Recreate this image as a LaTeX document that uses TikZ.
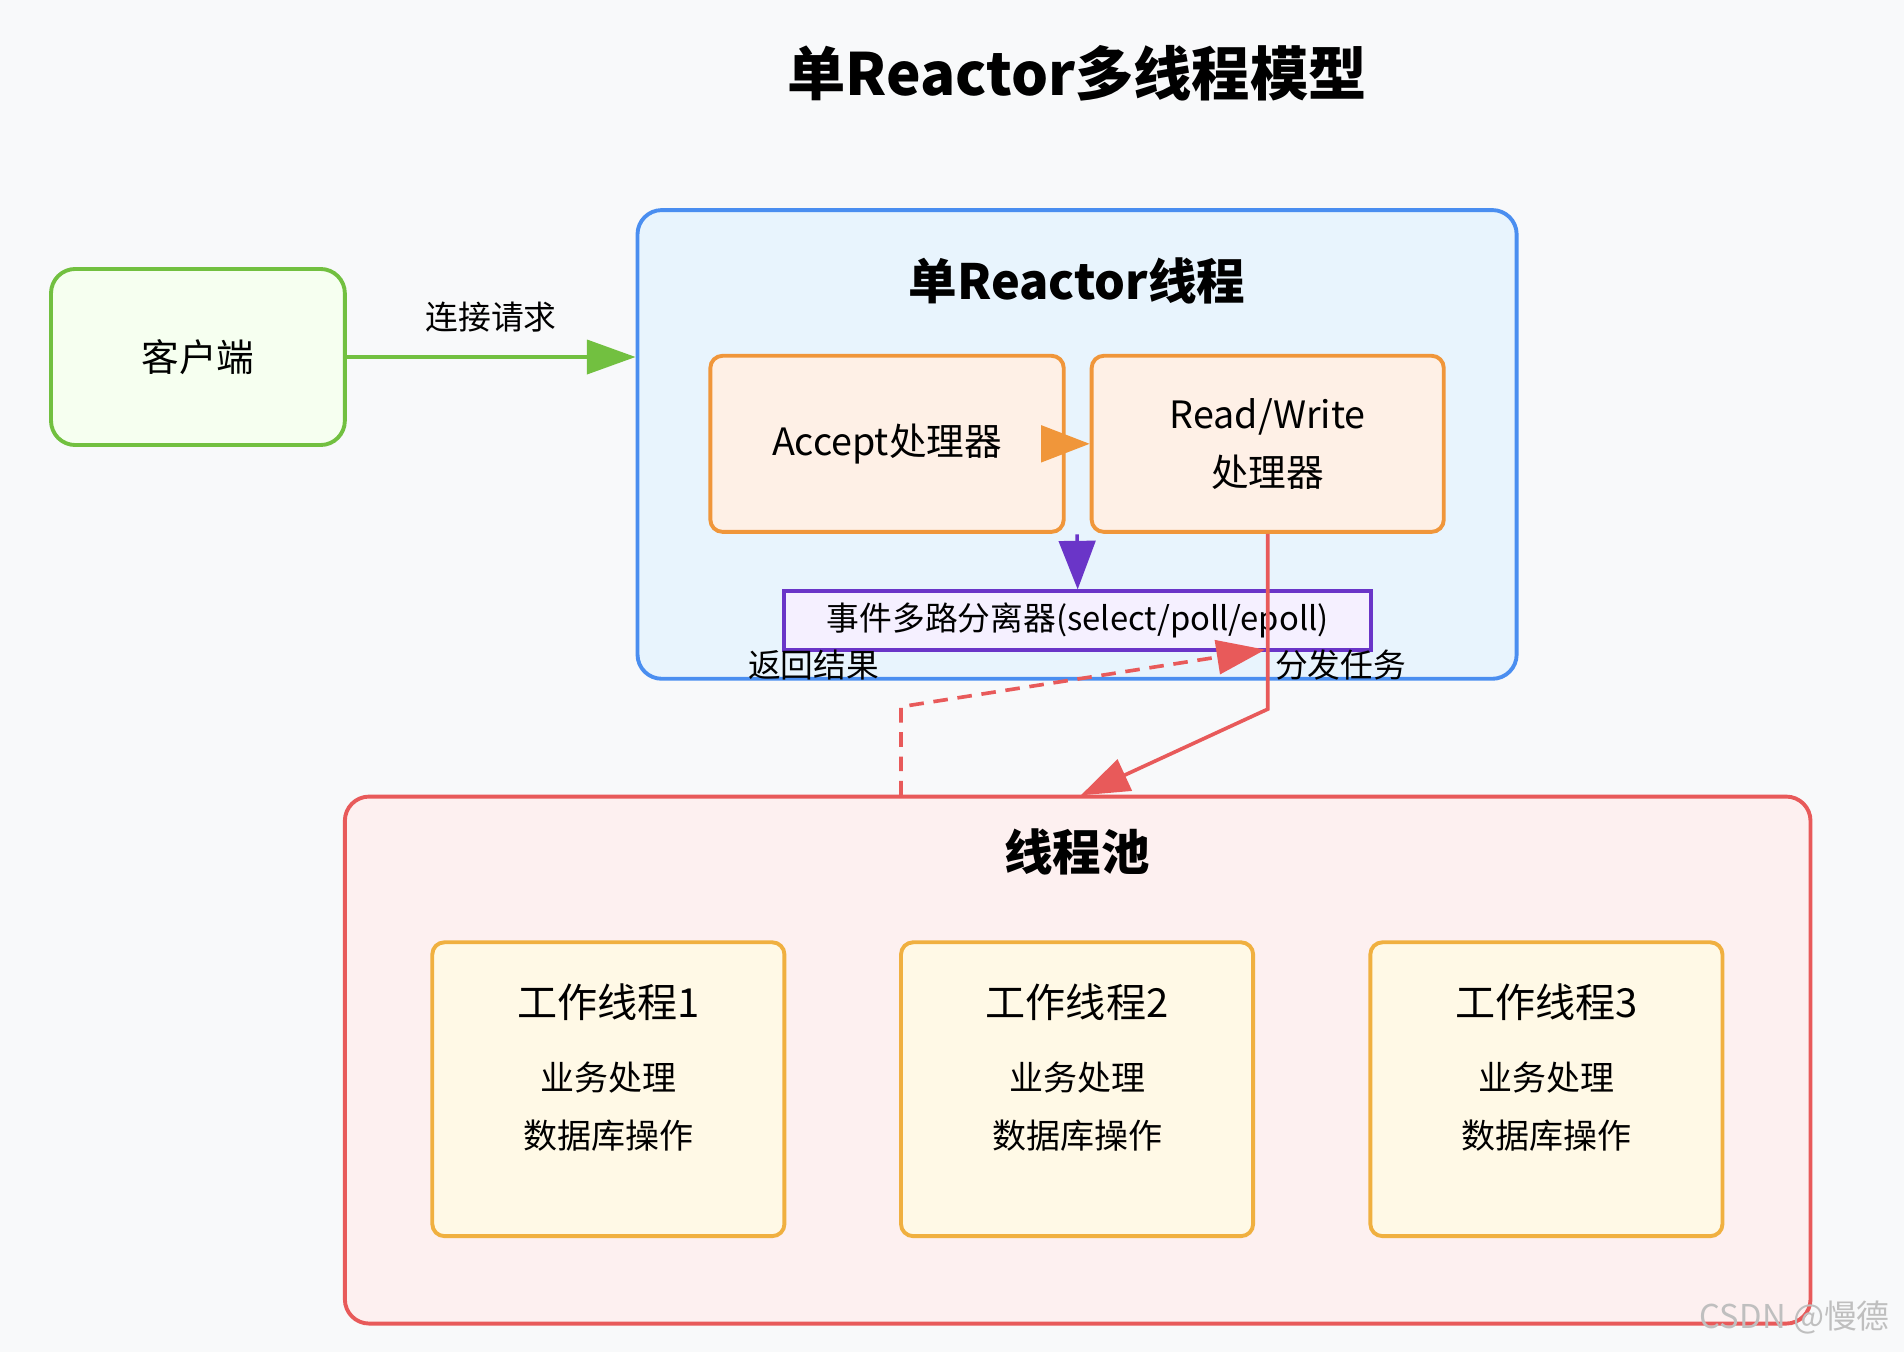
\documentclass[tikz,border=0pt]{standalone}
\usepackage{fontspec}
\setmainfont{Noto Sans CJK SC}
\usetikzlibrary{arrows.meta}
\definecolor{bg}{HTML}{F8F9FA}
\definecolor{gB}{HTML}{72C040}\definecolor{gF}{HTML}{F6FFF0}
\definecolor{bB}{HTML}{4A8EF0}\definecolor{bF}{HTML}{E8F4FD}
\definecolor{oB}{HTML}{F0963A}\definecolor{oF}{HTML}{FEF0E6}
\definecolor{pB}{HTML}{6A35C8}\definecolor{pF}{HTML}{F5F0FF}
\definecolor{rB}{HTML}{E85A5A}\definecolor{rF}{HTML}{FDF0F0}
\definecolor{yB}{HTML}{F0B040}\definecolor{yF}{HTML}{FFF9E6}
\tikzset{
 box/.style={draw, line width=1.6pt, rounded corners=#1},
 lbl/.style={font=\fontsize{13.5}{15}\selectfont},
 tip/.style={-{Triangle[length=20pt,width=14pt]}, line width=1.5pt},
}
\begin{document}
\begin{tikzpicture}[x=0.5pt,y=-0.5pt]
\fill[bg] (0,0) rectangle (1568,1113);
\useasboundingbox (0,0) rectangle (1568,1113);
\node (title) at (887,60) {\fontsize{24}{26}\selectfont\bfseries 单Reactor多线程模型};
% client
\node[box=10pt, draw=gB, fill=gF, minimum width=121pt, minimum height=72.5pt] (cli) at (163,294) {\fontsize{15.5}{18}\selectfont 客户端};
% reactor
\node[box=10pt, draw=bB, fill=bF, minimum width=362pt, minimum height=193pt] (rea) at (887,366) {};
\node (reat) at (887,231) {\fontsize{20}{22}\selectfont\bfseries 单Reactor线程};
\draw[tip, draw=gB] (cli.east) -- node[above=6pt, lbl, text=black] (lq) {连接请求} (rea.west |- cli.east);
\node[box=5pt, draw=oB, fill=oF, minimum width=145.5pt, minimum height=72.5pt] (acc) at (730.5,365.5) {\fontsize{15.5}{18}\selectfont Accept处理器};
\node[box=5pt, draw=oB, fill=oF, minimum width=145pt, minimum height=72.5pt, align=center] (rw) at (1044,365.5) {\fontsize{15.5}{18}\selectfont Read/Write\\[7pt]\fontsize{15.5}{18}\selectfont 处理器};
\draw[-{Triangle[length=20pt,width=15pt]}, line width=1.5pt, draw=oB] (acc.east) -- (rw.west);
\node[draw=pB, fill=pF, line width=1.6pt, minimum width=241.5pt, minimum height=24pt] (dmx) at (887.5,511) {\fontsize{13.5}{15}\selectfont 事件多路分离器(select/poll/epoll)};
\coordinate (pt) at (887,440);
\draw[-{Triangle[length=20pt,width=15pt]}, line width=1.5pt, draw=pB] (pt) -- (dmx.north);
% pool
\node[box=10pt, draw=rB, fill=rF, minimum width=603.5pt, minimum height=217pt] (pool) at (887.5,873) {};
\node (poolt) at (887,702) {\fontsize{20}{22}\selectfont\bfseries 线程池};
\foreach \i/\x in {1/501,2/887,3/1273.5}{
 \node[box=5pt, draw=yB, fill=yF, minimum width=145pt, minimum height=121pt] (w\i) at (\x,897) {};
 \node (wt\i) at (\x,825) {\fontsize{16.5}{19}\selectfont 工作线程\i};
 \node (wa\i) at (\x,887) {\fontsize{14}{16}\selectfont 业务处理};
 \node (wb\i) at (\x,935) {\fontsize{14}{16}\selectfont 数据库操作};
}
% connectors
\coordinate (c1) at (1044,584);
\coordinate (c2) at (890,655);
\draw[tip, draw=rB] (rw.south -| c1) -- (c1) -- (c2);
\coordinate (d0) at (742,655);
\coordinate (d1) at (742,582);
\coordinate (d2) at (1042,535);
\draw[tip, draw=rB, dash pattern=on 6pt off 4pt] (d0) -- (d1) -- (d2);
\node[lbl] (ret) at (670,548) {返回结果};
\node[lbl] (dis) at (1104,548) {分发任务};
\node[text=black!25, font=\fontsize{13.5}{15}\selectfont] (wm) at (1478,1085) {CSDN @慢德};
\end{tikzpicture}
\end{document}
